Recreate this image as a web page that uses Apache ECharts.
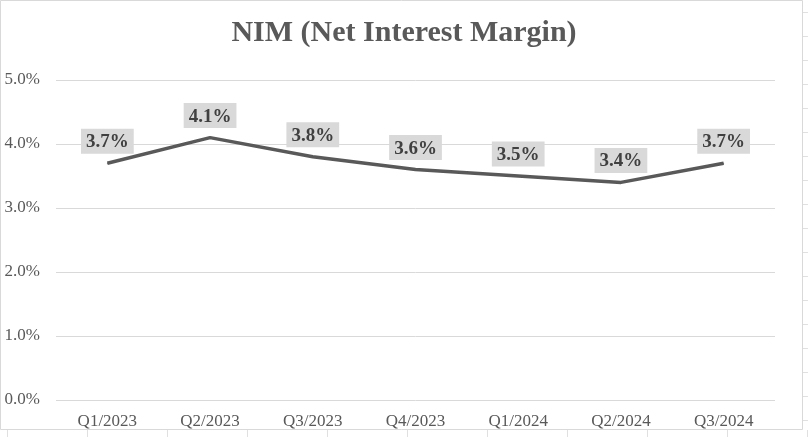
<!DOCTYPE html>
<html><head><meta charset="utf-8">
<script src="https://cdn.jsdelivr.net/npm/echarts@6/dist/echarts.min.js"></script>
<style>html,body{margin:0;padding:0;background:#fff}#c{width:808px;height:437px}</style>
</head><body><div id="c"></div>
<script>
const categories = ['Q1/2023','Q2/2023','Q3/2023','Q4/2023','Q1/2024','Q2/2024','Q3/2024'];
const nimValues = [3.7, 4.1, 3.8, 3.6, 3.5, 3.4, 3.7];
const yTicks = [0, 1, 2, 3, 4, 5];

const chart = echarts.init(document.getElementById('c'), null, {renderer:'canvas'});
const deco = [];
deco.push({type:'rect', shape:{x:0.5,y:0.5,width:802,height:429}, style:{fill:'none', stroke:'#d9d9d9', lineWidth:1}, silent:true});
for (let x = 7; x < 808; x += 80) deco.push({type:'line', shape:{x1:x+0.5,y1:430,x2:x+0.5,y2:437}, style:{stroke:'#e0e0e0'}, silent:true});
for (let y = 12; y < 437; y += 24) deco.push({type:'line', shape:{x1:803,y1:y+0.5,x2:808,y2:y+0.5}, style:{stroke:'#e0e0e0'}, silent:true});

chart.setOption({
  animation:false,
  backgroundColor:'#fff',
  title:{text:'NIM (Net Interest Margin)', left:'center', top:13,
    textStyle:{fontFamily:'Liberation Serif', fontWeight:'bold', fontSize:30, color:'#595959'}},
  grid:{left:56, right:33, top:80, bottom:37},
  xAxis:{type:'category', data:categories, boundaryGap:true,
    axisLine:{show:false}, axisTick:{show:false},
    axisLabel:{fontFamily:'Liberation Serif', fontSize:17, color:'#595959', margin:13}},
  yAxis:{type:'value', min:yTicks[0], max:yTicks[yTicks.length-1], interval:1,
    axisLine:{show:false}, axisTick:{show:false},
    splitLine:{lineStyle:{color:'#d9d9d9', width:1}},
    axisLabel:{fontFamily:'Liberation Serif', fontSize:17, color:'#595959', margin:16,
      formatter:v=>v.toFixed(1)+'%'}},
  series:[{type:'line', data:nimValues, symbol:'circle', symbolSize:1, showSymbol:true,
    itemStyle:{color:'#595959'},
    lineStyle:{color:'#595959', width:3.5},
    label:{show:true, position:'top', distance:9,
      formatter:p=>p.value.toFixed(1)+'%',
      fontFamily:'Liberation Serif', fontWeight:'bold', fontSize:19, color:'#404040',
      backgroundColor:'#d9d9d9', padding:[4,5,2,5]}}],
  graphic:deco
});
</script></body></html>
